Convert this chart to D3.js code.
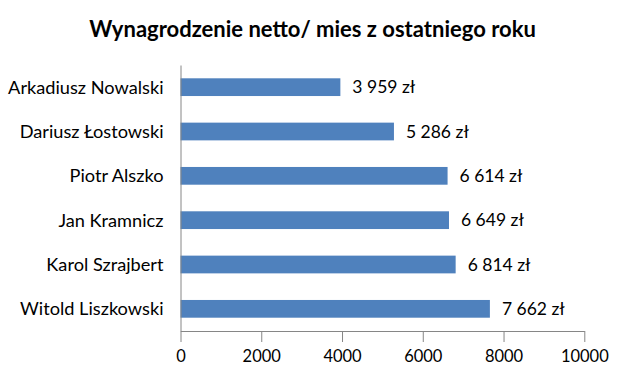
<!DOCTYPE html>
<html><head><meta charset="utf-8">
<script src="https://cdn.jsdelivr.net/npm/d3@7"></script>
<style>body{margin:0;background:#fff}svg{display:block}text{font-family:Lato,"Open Sans",sans-serif}</style>
</head><body>
<svg id="c" width="630" height="379"></svg>
<script>
const title = "Wynagrodzenie netto/ mies z ostatniego roku";
const categories = ["Arkadiusz Nowalski","Dariusz Łostowski","Piotr Alszko","Jan Kramnicz","Karol Szrajbert","Witold Liszkowski"];
const values = [3959,5286,6614,6649,6814,7662];
const valueLabels = ["3 959 zł","5 286 zł","6 614 zł","6 649 zł","6 814 zł","7 662 zł"];
const xTicks = [0,2000,4000,6000,8000,10000];

const svg = d3.select("#c");
const L = 180.5, R = 584.3, T = 65, B = 331;
const x = d3.scaleLinear().domain([0,10000]).range([L,R]);
const y = d3.scaleBand().domain(categories).range([T,B]).paddingInner(0.6).paddingOuter(0.3);
const data = categories.map((c,i)=>({c,v:values[i],l:valueLabels[i]}));

svg.append("text").attr("x",312.5).attr("y",37).attr("text-anchor","middle")
  .attr("font-size",22).attr("font-weight","bold").attr("fill","#000").text(title);

svg.selectAll("rect.bar").data(data).join("rect").attr("class","bar")
  .attr("x",x(0)).attr("y",d=>y(d.c)).attr("width",d=>x(d.v)-x(0)).attr("height",y.bandwidth())
  .attr("fill","#4F81BD");

svg.selectAll("text.val").data(data).join("text").attr("class","val")
  .attr("x",d=>x(d.v)+12).attr("y",d=>y(d.c)+y.bandwidth()/2).attr("dy","0.36em")
  .attr("font-size",17.5).attr("fill","#000").text(d=>d.l);

const xa = svg.append("g").attr("transform",`translate(0,${B})`)
  .call(d3.axisBottom(x).tickValues(xTicks).tickFormat(d3.format("d")).tickSize(11).tickSizeOuter(0));
xa.select(".domain").attr("stroke","#868686");
xa.selectAll(".tick line").attr("stroke","#868686");
xa.selectAll(".tick text").attr("font-size",16.5).attr("fill","#000").attr("font-family","Lato").attr("y",19).attr("dy","0.71em");

const ya = svg.append("g").attr("transform",`translate(${L},0)`)
  .call(d3.axisLeft(y).tickSize(0).tickPadding(17));
ya.select(".domain").attr("stroke","#868686");
ya.selectAll(".tick text").attr("font-size",18.2).attr("fill","#000").attr("font-family","Lato").attr("dy","0.36em");
</script>
</body></html>
